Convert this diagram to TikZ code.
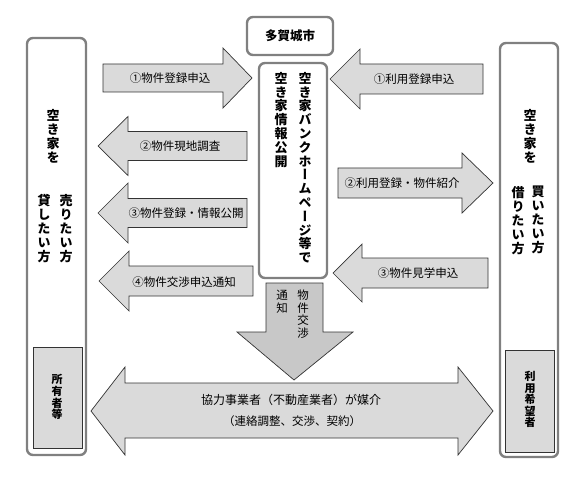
\documentclass[tikz,border=0pt]{standalone}
\usepackage{fontspec}
\newfontfamily\jp{Noto Sans CJK JP}
\newfontfamily\jpv{Noto Sans CJK JP}[RawFeature={+vert}]
\definecolor{boxgray}{HTML}{808080}
\definecolor{arrowfill}{HTML}{DADADA}
\definecolor{downfill}{HTML}{C8C8C8}
\definecolor{edge}{HTML}{333333}
\makeatletter
\newcommand\vtxt[2]{\vbox{\baselineskip=#1\relax\lineskiplimit=-\maxdimen\relax\@tfor\vt@c:=#2\do{\hbox to 1.2em{\hss\vt@c\hss}}}}
\makeatother
% horizontal block arrow: #1 tail x, #2 head base x, #3 tip x, #4 centre y, #5 body half, #6 head half
\newcommand\harr[6]{\draw[arr] (#1,#4-#5) -- (#2,#4-#5) -- (#2,#4-#6) -- (#3,#4) -- (#2,#4+#6) -- (#2,#4+#5) -- (#1,#4+#5) -- cycle;}
\begin{document}
\begin{tikzpicture}[x=1pt,y=-1pt,
  box/.style={draw=boxgray,line width=2.4pt,rounded corners=6pt,fill=white},
  innerbox/.style={draw=edge,line width=0.8pt,fill=arrowfill},
  arr/.style={draw=edge,line width=0.7pt,fill=arrowfill},
  darr/.style={draw=edge,line width=0.7pt,fill=downfill},
  lab/.style={font=\jp\fontsize{11.5}{13}\selectfont,inner sep=0pt},
  vlab/.style={inner sep=0pt,anchor=north,font=\jpv\bfseries\fontsize{13}{14}\selectfont},
  vsmall/.style={inner sep=0pt,anchor=north,font=\jpv\bfseries\fontsize{11}{12}\selectfont},
  vdown/.style={inner sep=0pt,anchor=north,font=\jpv\fontsize{11.5}{12}\selectfont},
]
\useasboundingbox (0,0) rectangle (581,500);
% outer boxes
\draw[box] (27,38) rectangle (86,455);
\draw[box] (500,43) rectangle (558,457);
\draw[box] (247,17) rectangle (333,55);
\draw[box] (259,63) rectangle (327,278);
% inner boxes
\draw[innerbox] (33,347) rectangle (82,448);
\draw[innerbox] (505,350) rectangle (554,452);
% arrows left side
\harr{103}{223}{252}{78}{14}{30}
\harr{247}{128}{98}{146}{14.5}{29.5}
\harr{247}{128}{98}{213}{14.5}{30}
\harr{253}{129}{99}{281}{15}{30}
% arrows right side
\harr{483}{360}{330}{79}{15}{30}
\harr{338}{462}{493}{183}{15}{30}
\harr{488}{362}{333}{273}{15}{29}
% down arrow
\draw[darr] (266,283) -- (323,283) -- (323,332) -- (353,332) -- (294,380) -- (237,332) -- (266,332) -- cycle;
% double arrow
\draw[arr] (91,411) -- (125,367) -- (125,383) -- (458,383) -- (458,367) -- (493,411) -- (458,455) -- (458,438) -- (125,438) -- (125,455) -- cycle;
% labels
\node[font=\jp\bfseries\fontsize{12.5}{14}\selectfont,inner sep=0pt] (taga) at (290,36) {多賀城市};
\node[lab] (l1) at (170,78) {①物件登録申込};
\node[lab] (l2) at (180,146) {②物件現地調査};
\node[lab] (l3) at (186,213) {③物件登録・情報公開};
\node[lab] (l4) at (184,282) {④物件交渉申込通知};
\node[lab] (r1) at (414,79) {①利用登録申込};
\node[lab] (r2) at (402,183) {②利用登録・物件紹介};
\node[lab] (r3) at (418,273) {③物件見学申込};
\node[vlab] (c1) at (281,72) {\vtxt{13.8pt}{空き家情報公開}};
\node[vlab] (c2) at (305,72) {\vtxt{13.8pt}{空き家バンクホームページ等で}};
\node[vlab] (s1) at (53,109) {\vtxt{14pt}{空き家を}};
\node[vlab] (s2) at (66,194) {\vtxt{14pt}{売りたい方}};
\node[vlab] (s3) at (44,194) {\vtxt{14pt}{貸したい方}};
\node[vlab] (b1) at (530,109) {\vtxt{14pt}{空き家を}};
\node[vlab] (b2) at (538,186) {\vtxt{14pt}{買いたい方}};
\node[vlab] (b3) at (518,186) {\vtxt{14pt}{借りたい方}};
\node[vsmall] (o1) at (57,374) {\vtxt{11.8pt}{所有者等}};
\node[vsmall] (o2) at (530,371) {\vtxt{11.6pt}{利用希望者}};
\node[vdown] (d1) at (282,290) {\vtxt{12.5pt}{通知}};
\node[vdown] (d2) at (303,290) {\vtxt{12.5pt}{物件交渉}};
\node[font=\jp\fontsize{12}{14}\selectfont,inner sep=0pt] (m1) at (291,400) {協力事業者（不動産業者）が媒介};
\node[font=\jp\fontsize{11.5}{13}\selectfont,inner sep=0pt] (m2) at (292,421) {（連絡調整、交渉、契約）};
\end{tikzpicture}
\end{document}
